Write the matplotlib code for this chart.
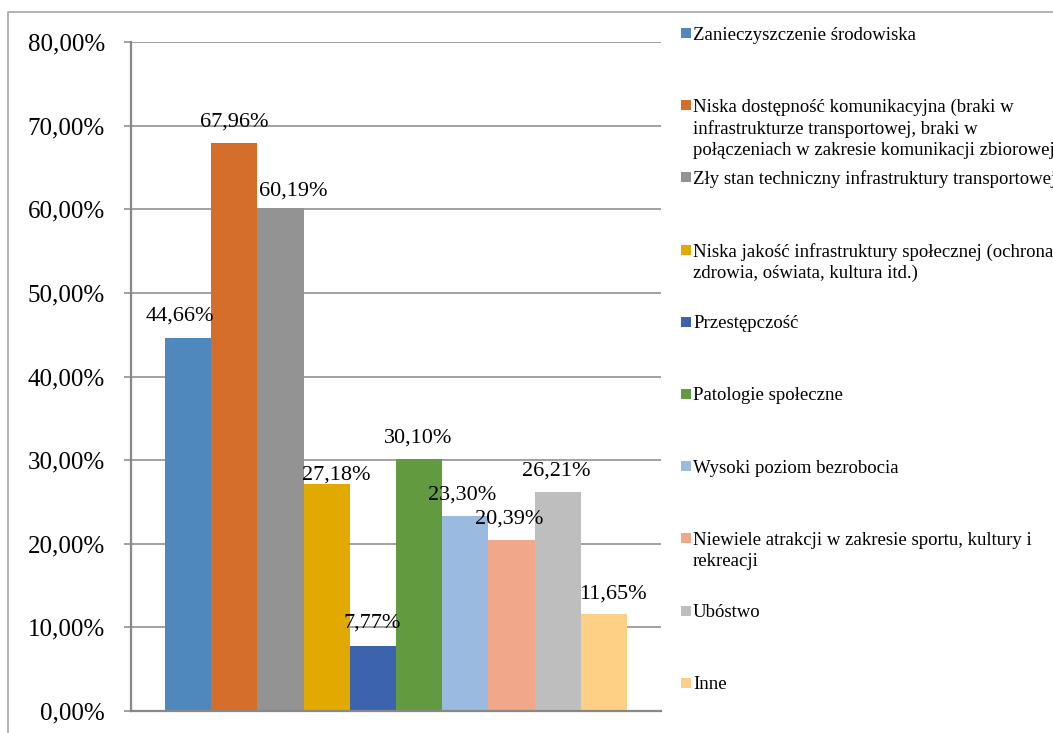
import matplotlib.pyplot as plt
import numpy as np
from matplotlib.lines import Line2D
from matplotlib.patches import Rectangle

plt.rcParams["font.family"] = ["Liberation Serif", "DejaVu Serif"]

# data
categories = [
    "Zanieczyszczenie środowiska",
    "Niska dostępność komunikacyjna (braki w\ninfrastrukturze transportowej, braki w\npołączeniach w zakresie komunikacji zbiorowej)",
    "Zły stan techniczny infrastruktury transportowej",
    "Niska jakość infrastruktury społecznej (ochrona\nzdrowia, oświata, kultura itd.)",
    "Przestępczość",
    "Patologie społeczne",
    "Wysoki poziom bezrobocia",
    "Niewiele atrakcji w zakresie sportu, kultury i\nrekreacji",
    "Ubóstwo",
    "Inne",
]
values = [44.66, 67.96, 60.19, 27.18, 7.77, 30.10, 23.30, 20.39, 26.21, 11.65]
colors = ["#4f88bd", "#d46e2a", "#939393", "#e2aa00", "#3c64ae",
          "#629a3f", "#9abae0", "#f0a78a", "#bebebe", "#fdd086"]
y_ticks = [0, 10, 20, 30, 40, 50, 60, 70, 80]

# label nudges in pixels (dx, height above bar top), as placed in the original
label_dx = [-8, 0, 13, 10, -1, -1, -3, -2, -1, 9]
label_dy = [24, 23, 19, 11, 25, 24, 24, 24, 23, 22]

W, H = 1053, 733
fig = plt.figure(figsize=(W / 100, H / 100), dpi=100)

# outer frame (only top and left visible)
fig.add_artist(Line2D([8 / W, 8 / W, 1.0], [0.0, 1 - 12 / H, 1 - 12 / H],
                      transform=fig.transFigure, color="#a6a6a6", lw=1.2))

ax = fig.add_axes([130.5 / W, 22 / H, (661 - 130.5) / W, (711 - 42) / H])
x = np.arange(len(values))
ax.bar(x, values, width=1.0, color=colors, zorder=2)

ax.set_xlim(-0.5 - 34.5 / 46.2, 9.5 + 34 / 46.2)
ax.set_ylim(0, 80)
ax.set_yticks(y_ticks)
ax.set_yticklabels([f"{v:.2f}%".replace(".", ",") for v in y_ticks], fontsize=18)
ax.set_xticks([])
ax.tick_params(axis="y", length=5, width=1.1, color="#888888", pad=13.5)
ax.yaxis.grid(True, color="#888888", lw=1.1, zorder=0)
for side in ["top", "right"]:
    ax.spines[side].set_visible(False)
ax.spines["left"].set_color("#888888")
ax.spines["left"].set_linewidth(1.6)
ax.spines["bottom"].set_color("#888888")
ax.spines["bottom"].set_linewidth(1.6)

for i, v in enumerate(values):
    ax.annotate(f"{v:.2f}%".replace(".", ","), (x[i], v),
                xytext=(label_dx[i] * 0.72, label_dy[i] * 0.72),
                textcoords="offset points", ha="center", va="center_baseline",
                fontsize=16, zorder=3)

# legend drawn by hand so the square sits on the first text line
step = 72.2
line_h = 21.5
for k, (label, c) in enumerate(zip(categories, colors)):
    yc = 33 + k * step
    fig.add_artist(Rectangle((681 / W, 1 - (yc + 5) / H), 10 / W, 10 / H,
                             transform=fig.transFigure, color=c, lw=0))
    for j, line in enumerate(label.split("\n")):
        fig.text(693 / W, 1 - (yc + j * line_h) / H, line, fontsize=13.5,
                 ha="left", va="center_baseline")

fig.savefig("out.png", dpi=100)
